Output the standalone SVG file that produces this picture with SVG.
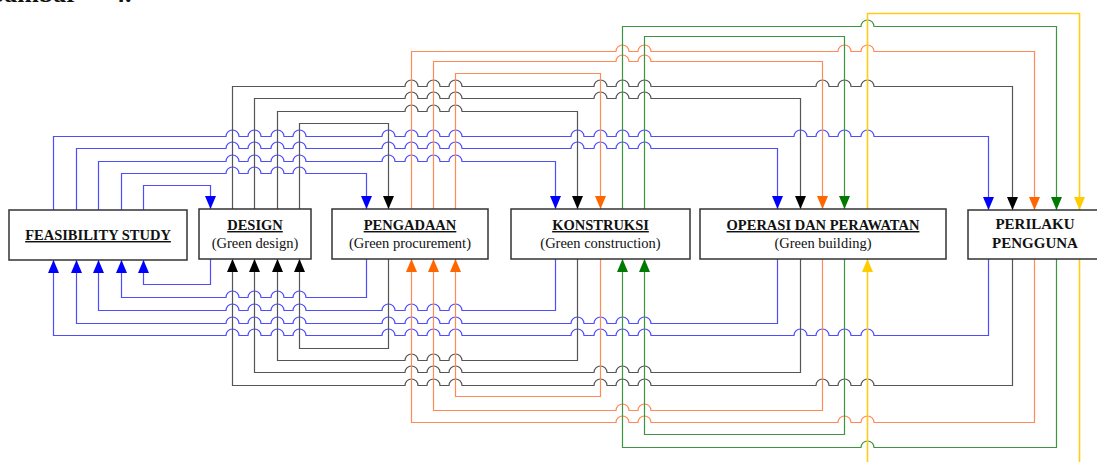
<svg xmlns="http://www.w3.org/2000/svg" width="1097" height="462" viewBox="0 0 1097 462">
<style>
.box{fill:#fff;stroke:#333;stroke-width:1.5}
.t{font-family:"Liberation Serif","Times New Roman",serif;font-size:14.5px;text-anchor:middle;fill:#111}
.title{font-weight:bold;text-decoration:underline}
.c{fill:none;stroke-width:1.2}
.bl{stroke:#4d4dff;marker-end:url(#ab)}
.bk{stroke:#555;marker-end:url(#ak)}
.or{stroke:#ff8a55;marker-end:url(#ao)}
.gr{stroke:#3f943f;marker-end:url(#ag)}
.ye{stroke:#ffcc1a;stroke-width:1.6}
.yea{marker-end:url(#ay)}
</style>
<defs>
<marker id="ab" markerUnits="userSpaceOnUse" viewBox="0 0 13 11" markerWidth="13" markerHeight="11" refX="13" refY="5.5" orient="auto"><path d="M0,0 L13,5.5 L0,11 z" fill="#0000ff"/></marker>
<marker id="ak" markerUnits="userSpaceOnUse" viewBox="0 0 13 11" markerWidth="13" markerHeight="11" refX="13" refY="5.5" orient="auto"><path d="M0,0 L13,5.5 L0,11 z" fill="#000"/></marker>
<marker id="ao" markerUnits="userSpaceOnUse" viewBox="0 0 13 11" markerWidth="13" markerHeight="11" refX="13" refY="5.5" orient="auto"><path d="M0,0 L13,5.5 L0,11 z" fill="#ff6600"/></marker>
<marker id="ag" markerUnits="userSpaceOnUse" viewBox="0 0 13 11" markerWidth="13" markerHeight="11" refX="13" refY="5.5" orient="auto"><path d="M0,0 L13,5.5 L0,11 z" fill="#007a00"/></marker>
<marker id="ay" markerUnits="userSpaceOnUse" viewBox="0 0 13 11" markerWidth="13" markerHeight="11" refX="13" refY="5.5" orient="auto"><path d="M0,0 L13,5.5 L0,11 z" fill="#ffcc00"/></marker>
</defs>
<rect width="1097" height="462" fill="#fff"/>
<text y="2" font-family="Liberation Serif, serif" font-weight="bold" font-size="26" fill="#111"><tspan x="-16">Gambar</tspan><tspan x="112">4.</tspan></text>
<g id="connectors">
<!-- top blue -->
<path class="c bl" d="M143.5,210 V185.5 H210.5 V209"/>
<path class="c bl" d="M121.5,210 V173.5 H226 a6.5,6.5 0 0 1 13,0 H248 a6.5,6.5 0 0 1 13,0 H271 a6.5,6.5 0 0 1 13,0 H293 a6.5,6.5 0 0 1 13,0 H366.5 V209"/>
<path class="c bl" d="M98.5,210 V161.5 H226 a6.5,6.5 0 0 1 13,0 H248 a6.5,6.5 0 0 1 13,0 H271 a6.5,6.5 0 0 1 13,0 H293 a6.5,6.5 0 0 1 13,0 H382 a6.5,6.5 0 0 1 13,0 H405 a6.5,6.5 0 0 1 13,0 H427 a6.5,6.5 0 0 1 13,0 H449 a6.5,6.5 0 0 1 13,0 H555.5 V209"/>
<path class="c bl" d="M76.5,210 V148.5 H226 a6.5,6.5 0 0 1 13,0 H248 a6.5,6.5 0 0 1 13,0 H271 a6.5,6.5 0 0 1 13,0 H293 a6.5,6.5 0 0 1 13,0 H382 a6.5,6.5 0 0 1 13,0 H405 a6.5,6.5 0 0 1 13,0 H427 a6.5,6.5 0 0 1 13,0 H449 a6.5,6.5 0 0 1 13,0 H571 a6.5,6.5 0 0 1 13,0 H594 a6.5,6.5 0 0 1 13,0 H616 a6.5,6.5 0 0 1 13,0 H638 a6.5,6.5 0 0 1 13,0 H777.5 V209"/>
<path class="c bl" d="M53.5,210 V136.5 H226 a6.5,6.5 0 0 1 13,0 H248 a6.5,6.5 0 0 1 13,0 H271 a6.5,6.5 0 0 1 13,0 H293 a6.5,6.5 0 0 1 13,0 H382 a6.5,6.5 0 0 1 13,0 H405 a6.5,6.5 0 0 1 13,0 H427 a6.5,6.5 0 0 1 13,0 H449 a6.5,6.5 0 0 1 13,0 H571 a6.5,6.5 0 0 1 13,0 H594 a6.5,6.5 0 0 1 13,0 H616 a6.5,6.5 0 0 1 13,0 H638 a6.5,6.5 0 0 1 13,0 H794 a6.5,6.5 0 0 1 13,0 H816 a6.5,6.5 0 0 1 13,0 H838 a6.5,6.5 0 0 1 13,0 H861 a6.5,6.5 0 0 1 13,0 H988.5 V210"/>
<!-- top black -->
<path class="c bk" d="M299.5,209 V123.5 H388.5 V209"/>
<path class="c bk" d="M277.5,209 V111.5 H405 a6.5,6.5 0 0 1 13,0 H427 a6.5,6.5 0 0 1 13,0 H449 a6.5,6.5 0 0 1 13,0 H577.5 V209"/>
<path class="c bk" d="M254.5,209 V98.5 H405 a6.5,6.5 0 0 1 13,0 H427 a6.5,6.5 0 0 1 13,0 H449 a6.5,6.5 0 0 1 13,0 H594 a6.5,6.5 0 0 1 13,0 H616 a6.5,6.5 0 0 1 13,0 H638 a6.5,6.5 0 0 1 13,0 H800.5 V209"/>
<path class="c bk" d="M232.5,209 V86.5 H405 a6.5,6.5 0 0 1 13,0 H427 a6.5,6.5 0 0 1 13,0 H449 a6.5,6.5 0 0 1 13,0 H594 a6.5,6.5 0 0 1 13,0 H616 a6.5,6.5 0 0 1 13,0 H638 a6.5,6.5 0 0 1 13,0 H816 a6.5,6.5 0 0 1 13,0 H838 a6.5,6.5 0 0 1 13,0 H861 a6.5,6.5 0 0 1 13,0 H1012.5 V210"/>
<!-- top orange -->
<path class="c or" d="M455.5,209 V73.5 H600.5 V209"/>
<path class="c or" d="M433.5,209 V61.5 H616 a6.5,6.5 0 0 1 13,0 H638 a6.5,6.5 0 0 1 13,0 H822.5 V209"/>
<path class="c or" d="M411.5,209 V51.5 H616 a6.5,6.5 0 0 1 13,0 H638 a6.5,6.5 0 0 1 13,0 H838 a6.5,6.5 0 0 1 13,0 H861 a6.5,6.5 0 0 1 13,0 H1034.5 V210"/>
<!-- top green -->
<path class="c gr" d="M644.5,209 V36.5 H844.5 V209"/>
<path class="c gr" d="M622.5,209 V26.5 H861 a6.5,6.5 0 0 1 13,0 H1056.5 V210"/>
<!-- top yellow -->
<path class="c ye yea" d="M867.5,209 V13.5 H1079.5 V210"/>
<!-- bottom blue -->
<path class="c bl" d="M210.5,259 V284.5 H143.5 V260"/>
<path class="c bl" d="M366.5,259 V297.5 H306 a6.5,6.5 0 0 0 -13,0 H284 a6.5,6.5 0 0 0 -13,0 H261 a6.5,6.5 0 0 0 -13,0 H239 a6.5,6.5 0 0 0 -13,0 H121.5 V260"/>
<path class="c bl" d="M555.5,259 V310.5 H462 a6.5,6.5 0 0 0 -13,0 H440 a6.5,6.5 0 0 0 -13,0 H418 a6.5,6.5 0 0 0 -13,0 H395 a6.5,6.5 0 0 0 -13,0 H306 a6.5,6.5 0 0 0 -13,0 H284 a6.5,6.5 0 0 0 -13,0 H261 a6.5,6.5 0 0 0 -13,0 H239 a6.5,6.5 0 0 0 -13,0 H98.5 V260"/>
<path class="c bl" d="M777.5,259 V323.5 H651 a6.5,6.5 0 0 0 -13,0 H629 a6.5,6.5 0 0 0 -13,0 H607 a6.5,6.5 0 0 0 -13,0 H584 a6.5,6.5 0 0 0 -13,0 H462 a6.5,6.5 0 0 0 -13,0 H440 a6.5,6.5 0 0 0 -13,0 H418 a6.5,6.5 0 0 0 -13,0 H395 a6.5,6.5 0 0 0 -13,0 H306 a6.5,6.5 0 0 0 -13,0 H284 a6.5,6.5 0 0 0 -13,0 H261 a6.5,6.5 0 0 0 -13,0 H239 a6.5,6.5 0 0 0 -13,0 H76.5 V260"/>
<path class="c bl" d="M988.5,259 V335.5 H874 a6.5,6.5 0 0 0 -13,0 H851 a6.5,6.5 0 0 0 -13,0 H829 a6.5,6.5 0 0 0 -13,0 H807 a6.5,6.5 0 0 0 -13,0 H651 a6.5,6.5 0 0 0 -13,0 H629 a6.5,6.5 0 0 0 -13,0 H607 a6.5,6.5 0 0 0 -13,0 H584 a6.5,6.5 0 0 0 -13,0 H462 a6.5,6.5 0 0 0 -13,0 H440 a6.5,6.5 0 0 0 -13,0 H418 a6.5,6.5 0 0 0 -13,0 H395 a6.5,6.5 0 0 0 -13,0 H306 a6.5,6.5 0 0 0 -13,0 H284 a6.5,6.5 0 0 0 -13,0 H261 a6.5,6.5 0 0 0 -13,0 H239 a6.5,6.5 0 0 0 -13,0 H53.5 V260"/>
<!-- bottom black -->
<path class="c bk" d="M388.5,259 V348.5 H299.5 V259"/>
<path class="c bk" d="M577.5,259 V360.5 H462 a6.5,6.5 0 0 0 -13,0 H440 a6.5,6.5 0 0 0 -13,0 H418 a6.5,6.5 0 0 0 -13,0 H277.5 V259"/>
<path class="c bk" d="M800.5,259 V372.5 H651 a6.5,6.5 0 0 0 -13,0 H629 a6.5,6.5 0 0 0 -13,0 H607 a6.5,6.5 0 0 0 -13,0 H462 a6.5,6.5 0 0 0 -13,0 H440 a6.5,6.5 0 0 0 -13,0 H418 a6.5,6.5 0 0 0 -13,0 H254.5 V259"/>
<path class="c bk" d="M1012.5,259 V385.5 H874 a6.5,6.5 0 0 0 -13,0 H851 a6.5,6.5 0 0 0 -13,0 H829 a6.5,6.5 0 0 0 -13,0 H651 a6.5,6.5 0 0 0 -13,0 H629 a6.5,6.5 0 0 0 -13,0 H607 a6.5,6.5 0 0 0 -13,0 H462 a6.5,6.5 0 0 0 -13,0 H440 a6.5,6.5 0 0 0 -13,0 H418 a6.5,6.5 0 0 0 -13,0 H232.5 V259"/>
<!-- bottom orange -->
<path class="c or" d="M600.5,259 V396.5 H455.5 V259"/>
<path class="c or" d="M822.5,259 V410.5 H651 a6.5,6.5 0 0 0 -13,0 H629 a6.5,6.5 0 0 0 -13,0 H433.5 V259"/>
<path class="c or" d="M1034.5,259 V422.5 H874 a6.5,6.5 0 0 0 -13,0 H851 a6.5,6.5 0 0 0 -13,0 H651 a6.5,6.5 0 0 0 -13,0 H629 a6.5,6.5 0 0 0 -13,0 H411.5 V259"/>
<!-- bottom green -->
<path class="c gr" d="M844.5,259 V434.5 H644.5 V259"/>
<path class="c gr" d="M1056.5,259 V447.5 H874 a6.5,6.5 0 0 0 -13,0 H622.5 V259"/>
<!-- bottom yellow -->
<path class="c ye" d="M1079.5,259 V470"/>
<path class="c ye yea" d="M867.5,470 V259"/>
</g>
<g id="node-feasibility">
<rect class="box" x="9" y="210" width="178" height="50"/>
<text class="t title" x="98" y="240">FEASIBILITY STUDY</text>
</g>
<g id="node-design">
<rect class="box" x="199" y="209" width="112" height="50"/>
<text class="t title" x="255" y="230">DESIGN</text>
<text class="t" x="255" y="248">(Green design)</text>
</g>
<g id="node-pengadaan">
<rect class="box" x="332" y="209" width="156" height="50"/>
<text class="t title" x="410" y="230">PENGADAAN</text>
<text class="t" x="410" y="248">(Green procurement)</text>
</g>
<g id="node-konstruksi">
<rect class="box" x="511" y="209" width="179" height="50"/>
<text class="t title" x="600.5" y="230">KONSTRUKSI</text>
<text class="t" x="600.5" y="248">(Green construction)</text>
</g>
<g id="node-operasi">
<rect class="box" x="700" y="209" width="246" height="50"/>
<text class="t title" x="823" y="230">OPERASI DAN PERAWATAN</text>
<text class="t" x="823" y="248">(Green building)</text>
</g>
<g id="node-perilaku">
<rect class="box" x="968" y="210" width="134" height="49"/>
<text class="t" x="1035" y="229" style="font-size:15px;font-weight:bold">PERILAKU</text>
<text class="t" x="1035" y="248" style="font-size:15px;font-weight:bold">PENGGUNA</text>
</g>
</svg>
